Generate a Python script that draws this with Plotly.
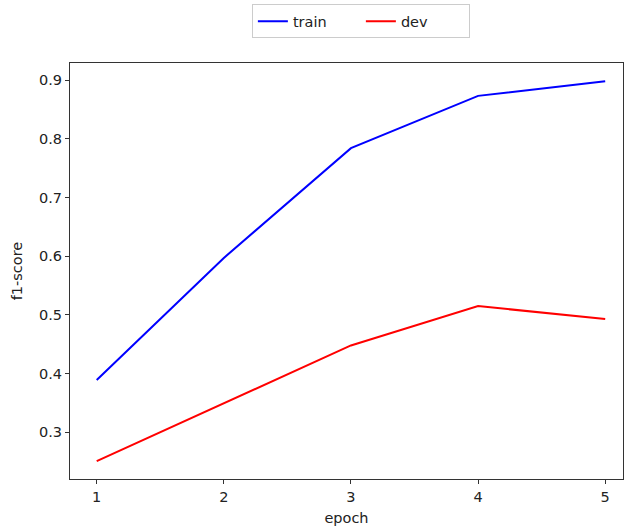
import plotly.graph_objects as go

epochs = [1, 2, 3, 4, 5]
train_f1 = [0.389, 0.597, 0.784, 0.873, 0.898]
dev_f1 = [0.251, 0.349, 0.448, 0.515, 0.493]
x_ticks = [1, 2, 3, 4, 5]
y_ticks = [0.3, 0.4, 0.5, 0.6, 0.7, 0.8, 0.9]

FS = 14.5

fig = go.Figure()
fig.add_trace(go.Scatter(x=epochs, y=train_f1, mode="lines", name="train",
                         line=dict(color="#0000ff", width=2)))
fig.add_trace(go.Scatter(x=epochs, y=dev_f1, mode="lines", name="dev",
                         line=dict(color="#ff0000", width=2)))

axis_common = dict(showgrid=False, zeroline=False, showline=True, linecolor="#333333",
                   linewidth=1.2, ticks="outside", ticklen=4, tickcolor="#333333",
                   tickfont=dict(family="DejaVu Sans", size=FS, color="#222222"),
                   mirror=True)

fig.update_layout(
    width=627, height=528,
    margin=dict(l=70, r=4, t=63, b=49),
    paper_bgcolor="white", plot_bgcolor="white",
    font=dict(family="DejaVu Sans", size=FS, color="#222222"),
    xaxis=dict(range=[0.79, 5.14], tickvals=x_ticks, ticktext=[str(v) for v in x_ticks],
               title=dict(text="epoch", standoff=9, font=dict(size=FS)), **axis_common),
    yaxis=dict(range=[0.2205, 0.929], tickvals=y_ticks, ticktext=[f"{v:.1f}" for v in y_ticks],
               title=dict(text="f1-score", standoff=12, font=dict(size=FS)), **axis_common),
    legend=dict(orientation="h", x=0.526, xanchor="center", y=1.1, yanchor="middle",
                bordercolor="#cccccc", borderwidth=1, bgcolor="white",
                font=dict(family="DejaVu Sans", size=FS), itemwidth=30,
                entrywidth=63, entrywidthmode="pixels"),
    showlegend=True,
)

fig.write_html("out.html")
